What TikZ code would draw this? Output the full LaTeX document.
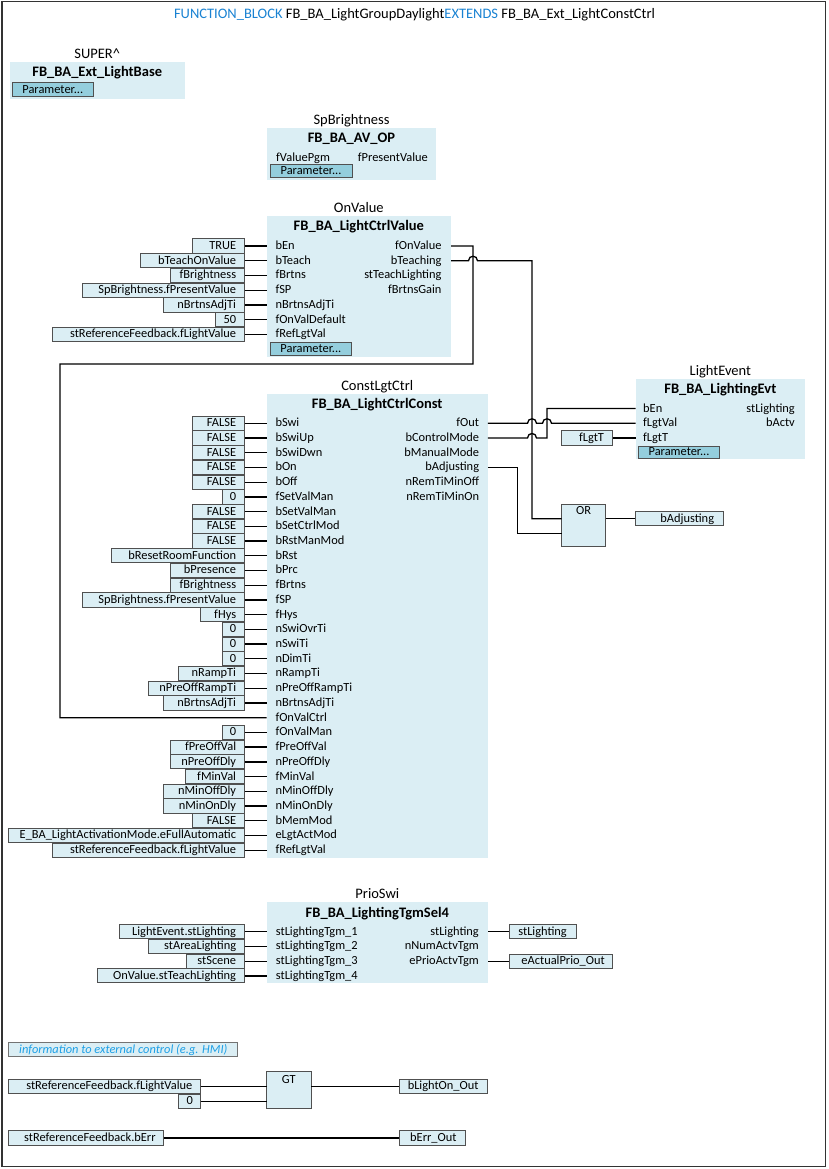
\documentclass[tikz,border=0pt]{standalone}
\usepackage{fontspec}
\setmainfont{Carlito}
\usetikzlibrary{fit,calc}
\definecolor{blk}{RGB}{219,238,244}
\definecolor{prm}{RGB}{148,206,221}
\definecolor{vbd}{RGB}{80,80,80}
\definecolor{kwblue}{RGB}{25,130,210}
\definecolor{cmtc}{RGB}{30,160,230}
\tikzset{
  wire/.style={line width=1.3pt, black},
  fbbox/.style={fill=blk, draw=none, inner sep=0pt},
  opbox/.style={fill=blk, draw=vbd, line width=0.9pt, inner sep=0pt},
  valbox/.style={fill=blk, draw=vbd, line width=1pt, inner sep=0pt},
  prmbox/.style={fill=prm, draw=vbd, line width=1pt, inner sep=0pt},
  txt/.style={inner sep=0pt, font=\fontsize{12.4}{14}\selectfont, text height=8.1pt, text depth=1.2pt},
  iname/.style={inner sep=0pt, font=\fontsize{14.5}{17}\selectfont, text height=9.6pt, text depth=1.5pt},
  tname/.style={iname, font=\fontsize{14.5}{17}\selectfont\bfseries},
}
\newcommand\FB[7]{%
  \node[fbbox, fit={(#2,#3) (#4,#5)}] (#1) {};
  \node[iname] (#1-inst) at ($(#1.north)+(0,-7.5)$) {#6};
  \node[tname] (#1-type) at ($(#1.north)+(0,11)$) {#7};
}
\newcommand\VAL[6]{%
  \node[valbox, fit={(#2,#4-7.1) (#3,#4+7.1)}] (#1) {};
  \node[txt, anchor=east] (#1-t) at (#3-#6,#4) {#5};
}
\newcommand\PRM[5]{%
  \node[prmbox, fit={(#2,#3) (#4,#5)}] (#1) {};
  \node[txt] (#1-t) at (#1.center) {Parameter...};
}
\begin{document}
\begin{tikzpicture}[x=1pt,y=-1pt]
\useasboundingbox (0,0) rectangle (828,1169);
\draw[line width=1.4pt, draw=black!80] (2,1.5) rectangle (825.5,1166.5);

% header
\node[inner sep=0pt, font=\fontsize{14.5}{17}\selectfont] (hdr) at (414.5,15)
  {\textcolor{kwblue}{FUNCTION\_BLOCK} FB\_BA\_LightGroupDaylight\textcolor{kwblue}{EXTENDS} FB\_BA\_Ext\_LightConstCtrl};

% SUPER^
\FB{SU}{9.5}{62}{185}{99}{SUPER\textasciicircum}{FB\_BA\_Ext\_LightBase}
\PRM{SUp}{12}{83}{93.5}{97}

% SpBrightness
\FB{SP}{267}{128}{436}{180}{SpBrightness}{FB\_BA\_AV\_OP}
\node[txt,anchor=west] (SPi1) at (276,158) {fValuePgm};
\node[txt,anchor=east] (SPo1) at (428,158) {fPresentValue};
\PRM{SPp}{270}{165}{352}{178}

% OnValue
\FB{OV}{266.7}{216}{451}{356.7}{OnValue}{FB\_BA\_LightCtrlValue}
\foreach \lab [count=\i] in {bEn,bTeach,fBrtns,fSP,nBrtnsAdjTi,fOnValDefault,fRefLgtVal}{
  \pgfmathsetmacro\yy{246+(\i-1)*14.75}
  \node[txt,anchor=west] (OVi\i) at (275.3,\yy) {\lab};
}
\foreach \lab [count=\i] in {fOnValue,bTeaching,stTeachLighting,fBrtnsGain}{
  \pgfmathsetmacro\yy{246+(\i-1)*14.75}
  \node[txt,anchor=east] (OVo\i) at (441.7,\yy) {\lab};
}
\foreach \i/\lx/\tx in {1/192.7/TRUE,2/140.7/bTeachOnValue,3/170.7/fBrightness,4/82.3/SpBrightness.fPresentValue,5/163.3/nBrtnsAdjTi,6/215.7/50,7/52.7/stReferenceFeedback.fLightValue}{
  \pgfmathsetmacro\yy{246+(\i-1)*14.75}
  \VAL{OVv\i}{\lx}{244.3}{\yy}{\tx}{8}
  \draw[wire] (OVv\i.east) -- (OVv\i.east -| OV.west);
}
\PRM{OVp}{270}{342.7}{351.7}{355.7}

% ConstLgtCtrl
\FB{CL}{266.7}{394}{487.7}{857.7}{ConstLgtCtrl}{FB\_BA\_LightCtrlConst}
\foreach \lab [count=\i] in {bSwi,bSwiUp,bSwiDwn,bOn,bOff,fSetValMan,bSetValMan,bSetCtrlMod,bRstManMod,bRst,bPrc,fBrtns,fSP,fHys,nSwiOvrTi,nSwiTi,nDimTi,nRampTi,nPreOffRampTi,nBrtnsAdjTi,fOnValCtrl,fOnValMan,fPreOffVal,nPreOffDly,fMinVal,nMinOffDly,nMinOnDly,bMemMod,eLgtActMod,fRefLgtVal}{
  \pgfmathsetmacro\yy{423.3+(\i-1)*14.72}
  \node[txt,anchor=west] (CLi\i) at (275.3,\yy) {\lab};
}
\foreach \lab [count=\i] in {fOut,bControlMode,bManualMode,bAdjusting,nRemTiMinOff,nRemTiMinOn}{
  \pgfmathsetmacro\yy{423.3+(\i-1)*14.72}
  \node[txt,anchor=east] (CLo\i) at (479.3,\yy) {\lab};
}
\foreach \i/\lx/\tx in {1/192.7/FALSE,2/192.7/FALSE,3/192.7/FALSE,4/192.7/FALSE,5/192.7/FALSE,6/222.3/0,7/192.7/FALSE,8/192.7/FALSE,9/192.7/FALSE,10/111.7/bResetRoomFunction,11/170.7/bPresence,12/170.7/fBrightness,13/82.3/SpBrightness.fPresentValue,14/200.3/fHys,15/222.3/0,16/222.3/0,17/222.3/0,18/178.3/nRampTi,19/148.3/nPreOffRampTi,20/163.3/nBrtnsAdjTi,22/222.3/0,23/170.7/fPreOffVal,24/170.7/nPreOffDly,25/185.3/fMinVal,26/163.3/nMinOffDly,27/163.3/nMinOnDly,28/192.7/FALSE,29/8.3/E\_BA\_LightActivationMode.eFullAutomatic,30/52.7/stReferenceFeedback.fLightValue}{
  \pgfmathsetmacro\yy{423.3+(\i-1)*14.72}
  \VAL{CLv\i}{\lx}{244.3}{\yy}{\tx}{8}
  \draw[wire] (CLv\i.east) -- (CLv\i.east -| CL.west);
}

% LightEvent
\FB{LE}{635.7}{379}{805}{459.3}{LightEvent}{FB\_BA\_LightingEvt}
\foreach \lab [count=\i] in {bEn,fLgtVal,fLgtT}{
  \pgfmathsetmacro\yy{408.58+(\i-1)*14.72}
  \node[txt,anchor=west] (LEi\i) at (643,\yy) {\lab};
}
\foreach \lab [count=\i] in {stLighting,bActv}{
  \pgfmathsetmacro\yy{408.58+(\i-1)*14.72}
  \node[txt,anchor=east] (LEo\i) at (795,\yy) {\lab};
}
\PRM{LEp}{638.7}{446.7}{719.3}{458.3}
\VAL{fLgtT}{561.7}{612.7}{438.02}{fLgtT}{8.5}
\draw[wire] (fLgtT.east) -- (fLgtT.east -| LE.west);

% OR
\node[opbox, fit={(561.7,504.3) (605.7,546)}] (OR) {};
\node[txt] (OR-t) at (583.7,511.5) {OR};
\coordinate (ORin1) at (561.7,518.8);
\coordinate (ORin2) at (561.7,533.5);
\coordinate (ORout) at (605.7,518.8);
\VAL{bAdjOut}{635}{723.3}{518.8}{bAdjusting}{9}
\draw[wire] (ORout) -- (bAdjOut.west);

% wires
\draw[wire] (OVo1 -| OV.east) -- (473,246) -- (473,364) -- (60,364) -- (60,717.7) -- (CLi21 -| CL.west);
\draw[wire] (OVo2 -| OV.east) -- (468.5,260.75) .. controls +(0,-6) and +(0,-6) .. (477.5,260.75) -- (532,260.75) -- (532,518.8) -- (ORin1);
\draw[wire] (CLo1 -| CL.east) -- (527.5,423.3) .. controls +(0,-6) and +(0,-6) .. (536.5,423.3) -- (542.5,423.3) .. controls +(0,-6) and +(0,-6) .. (551.5,423.3) -- (LEi2 -| LE.west);
\draw[wire] (CLo2 -| CL.east) -- (527.5,438.02) .. controls +(0,-6) and +(0,-6) .. (536.5,438.02) -- (547,438.02) -- (547,408.58) -- (LEi1 -| LE.west);
\draw[wire] (CLo4 -| CL.east) -- (517.3,467.46) -- (517.3,533.5) -- (ORin2);

% PrioSwi
\FB{PS}{266.8}{902.3}{487.9}{983}{PrioSwi}{FB\_BA\_LightingTgmSel4}
\foreach \lab [count=\i] in {stLightingTgm\_1,stLightingTgm\_2,stLightingTgm\_3,stLightingTgm\_4}{
  \pgfmathsetmacro\yy{931.7+(\i-1)*14.72}
  \node[txt,anchor=west] (PSi\i) at (275.7,\yy) {\lab};
}
\foreach \lab [count=\i] in {stLighting,nNumActvTgm,ePrioActvTgm}{
  \pgfmathsetmacro\yy{931.7+(\i-1)*14.72}
  \node[txt,anchor=east] (PSo\i) at (479,\yy) {\lab};
}
\foreach \i/\lx/\tx in {1/119.3/LightEvent.stLighting,2/148.6/stAreaLighting,3/186/stScene,4/97.9/OnValue.stTeachLighting}{
  \pgfmathsetmacro\yy{931.7+(\i-1)*14.72}
  \VAL{PSv\i}{\lx}{244.3}{\yy}{\tx}{8}
  \draw[wire] (PSv\i.east) -- (PSv\i.east -| PS.west);
}
\VAL{PSw1}{509.3}{576}{931.7}{stLighting}{9}
\VAL{PSw3}{509.3}{612.9}{961.14}{eActualPrio\_Out}{8}
\draw[wire] (PSo1 -| PS.east) -- (PSw1.west);
\draw[wire] (PSo3 -| PS.east) -- (PSw3.west);

% comment
\node[valbox, draw=black!55, line width=0.9pt, fit={(8.3,1042.7) (237.3,1056.7)}] (cmt) {};
\node[txt, anchor=west, text=cmtc, font=\fontsize{12.4}{14}\selectfont\itshape] (cmt-t) at (19,1049.7) {information to external control (e.g. HMI)};

% GT
\node[opbox, fit={(266.7,1071) (311,1108.3)}] (GT) {};
\node[txt] (GT-t) at (288.85,1080) {GT};
\coordinate (GTi1) at (266.7,1086.3);
\coordinate (GTi2) at (266.7,1101.3);
\coordinate (GTo) at (311,1086.3);
\VAL{gta}{8.3}{200}{1086.3}{stReferenceFeedback.fLightValue}{7.5}
\VAL{gtb}{178.3}{200}{1101.3}{0}{7}
\VAL{blo}{399.3}{487.7}{1086.3}{bLightOn\_Out}{9}
\draw[wire] (gta.east) -- (GTi1);
\draw[wire] (gtb.east) -- (GTi2);
\draw[wire] (GTo) -- (blo.west);

\VAL{berr}{8.3}{163.3}{1138}{stReferenceFeedback.bErr}{7.5}
\VAL{berro}{399.3}{465.7}{1138}{bErr\_Out}{9}
\draw[wire] (berr.east) -- (berro.west);
\end{tikzpicture}
\end{document}
